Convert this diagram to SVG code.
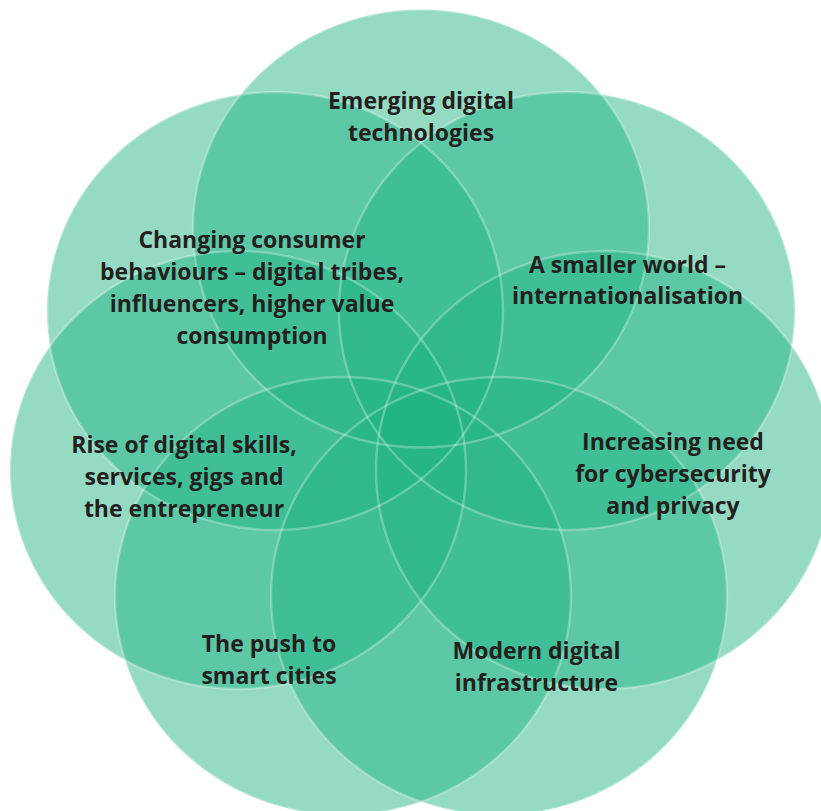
<svg xmlns="http://www.w3.org/2000/svg" xmlns:xlink="http://www.w3.org/1999/xlink" width="821" height="811" viewBox="0 0 821 811">
<style>
.petal{fill:#22b483;fill-opacity:0.48}
.rim{fill:none;stroke:#ffffff;stroke-opacity:0.28;stroke-width:2.4}
.lbl{font-family:"Open Sans","Noto Sans","Liberation Sans",sans-serif;font-weight:700;font-size:23px;fill:#231f20;text-anchor:middle}
</style>
<rect width="821" height="811" fill="#ffffff"/>
<g id="circles">
<ellipse id="c-top" class="petal" cx="421" cy="228.5" rx="228" ry="219"/>
<ellipse id="c-upper-left" class="petal" cx="275" cy="311" rx="228" ry="219"/>
<ellipse id="c-upper-right" class="petal" cx="567" cy="311" rx="228" ry="219"/>
<ellipse id="c-mid-left" class="petal" cx="238" cy="470" rx="228" ry="219"/>
<ellipse id="c-mid-right" class="petal" cx="604" cy="470" rx="228" ry="219"/>
<ellipse id="c-bottom-left" class="petal" cx="343" cy="596" rx="228" ry="219"/>
<ellipse id="c-bottom-right" class="petal" cx="499" cy="596" rx="228" ry="219"/>
</g>
<g id="outlines">
<ellipse class="rim" cx="421" cy="228.5" rx="228" ry="219"/>
<ellipse class="rim" cx="275" cy="311" rx="228" ry="219"/>
<ellipse class="rim" cx="567" cy="311" rx="228" ry="219"/>
<ellipse class="rim" cx="238" cy="470" rx="228" ry="219"/>
<ellipse class="rim" cx="604" cy="470" rx="228" ry="219"/>
<ellipse class="rim" cx="343" cy="596" rx="228" ry="219"/>
<ellipse class="rim" cx="499" cy="596" rx="228" ry="219"/>
</g>
<g id="node-emerging">
<text class="lbl" x="421" y="109">Emerging digital</text>
<text class="lbl" x="421" y="140.5">technologies</text>
</g>
<g id="node-consumer">
<text class="lbl" x="252" y="248">Changing consumer</text>
<text class="lbl" x="252" y="280">behaviours – digital tribes,</text>
<text class="lbl" x="252" y="312">influencers, higher value</text>
<text class="lbl" x="252" y="343.5">consumption</text>
</g>
<g id="node-smaller-world">
<text class="lbl" x="627.5" y="272.5">A smaller world –</text>
<text class="lbl" x="627.5" y="304">internationalisation</text>
</g>
<g id="node-skills">
<text class="lbl" x="184" y="452.5">Rise of digital skills,</text>
<text class="lbl" x="184" y="484.5">services, gigs and</text>
<text class="lbl" x="184" y="516.5">the entrepreneur</text>
</g>
<g id="node-cyber">
<text class="lbl" x="673" y="450">Increasing need</text>
<text class="lbl" x="673" y="482">for cybersecurity</text>
<text class="lbl" x="673" y="513.5">and privacy</text>
</g>
<g id="node-smart-cities">
<text class="lbl" x="269" y="652">The push to</text>
<text class="lbl" x="269" y="684">smart cities</text>
</g>
<g id="node-infrastructure">
<text class="lbl" x="536.5" y="659">Modern digital</text>
<text class="lbl" x="536.5" y="690.5">infrastructure</text>
</g>
</svg>
